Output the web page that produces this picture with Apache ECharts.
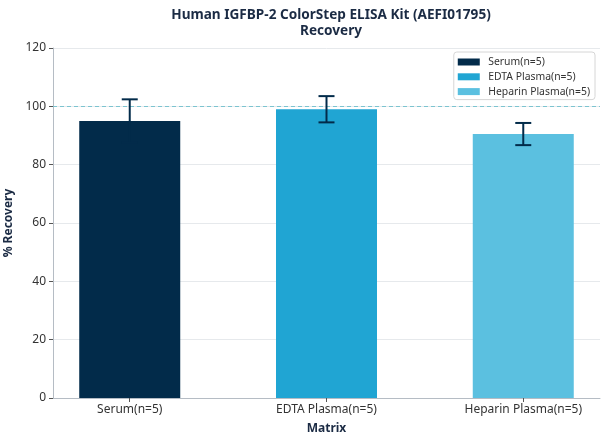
<!DOCTYPE html>
<html>
<head>
<meta charset="utf-8">
<script src="https://cdn.jsdelivr.net/npm/echarts@6/dist/echarts.min.js"></script>
<style>
  html, body { margin: 0; padding: 0; background: #fff; }
  #chart { width: 608px; height: 444px; }
</style>
</head>
<body>
<div id="chart"></div>
<script>
// data
const categories = ['Serum(n=5)', 'EDTA Plasma(n=5)', 'Heparin Plasma(n=5)'];
const recovery = [95, 99, 90.5];
const errors = [7.4, 4.5, 3.8];
const colors = ['#022b4a', '#20a5d3', '#5bc0e0'];
const yTicks = [0, 20, 40, 60, 80, 100, 120];

const chart = echarts.init(document.getElementById('chart'));

const barSeries = categories.map((name, i) => ({
  name: name,
  type: 'bar',
  barWidth: 101,
  barGap: '-100%',
  itemStyle: { color: colors[i] },
  data: [[i, recovery[i]]],
  z: 2
}));

// dashed reference line at 100 %
barSeries[0].markLine = {
  silent: true,
  symbol: 'none',
  label: { show: false },
  lineStyle: { color: '#7cc4d0', type: [4, 3], width: 1 },
  data: [{ yAxis: 100 }],
  z: 5
};

const errData = categories.map((c, i) => [i, recovery[i] - errors[i], recovery[i] + errors[i]]);

chart.setOption({
  animation: false,
  textStyle: { fontFamily: 'Noto Sans' },
  title: {
    text: 'Human IGFBP-2 ColorStep ELISA Kit (AEFI01795)\nRecovery',
    left: 326,
    top: 2,
    textAlign: 'center',
    textStyle: { fontSize: 13.6, fontWeight: 'bold', color: '#1b2b44', lineHeight: 16, fontFamily: 'Noto Sans' }
  },
  legend: {
    orient: 'vertical',
    right: 13,
    top: 52,
    data: categories,
    itemWidth: 22,
    itemHeight: 7,
    itemGap: 4.8,
    padding: [5, 5, 3, 4],
    borderColor: '#d6d6d6',
    borderWidth: 1,
    borderRadius: 3,
    icon: 'rect',
    textStyle: { fontSize: 10.4, color: '#333', fontFamily: 'Noto Sans', padding: [0, 0, 0, 3.5] }
  },
  grid: { left: 53, right: 8, top: 48, bottom: 46, outerBoundsMode: 'none' },
  xAxis: {
    type: 'value',
    min: -0.39,
    max: 2.39,
    name: 'Matrix',
    nameLocation: 'middle',
    nameGap: 25,
    nameTextStyle: { fontSize: 12, fontWeight: 'bold', color: '#1b2b44' },
    axisLine: { show: true, onZero: false, lineStyle: { color: '#b5bcc4' } },
    axisTick: { show: true, length: 4, customValues: [0, 1, 2], lineStyle: { color: '#555' } },
    axisLabel: {
      customValues: [0, 1, 2],
      formatter: v => categories[Math.round(v)],
      fontSize: 12,
      color: '#333',
      margin: 6
    },
    splitLine: { show: false }
  },
  yAxis: {
    type: 'value',
    min: 0,
    max: 120,
    interval: 20,
    name: '% Recovery',
    nameLocation: 'middle',
    nameGap: 28,
    nameTextStyle: { fontSize: 12, fontWeight: 'bold', color: '#1b2b44' },
    axisLine: { show: true, onZero: false, lineStyle: { color: '#b5bcc4' } },
    axisTick: { show: true, length: 4, lineStyle: { color: '#555' } },
    axisLabel: {
      fontSize: 12,
      color: '#333',
      margin: 7,
      formatter: v => (yTicks.indexOf(v) >= 0 ? String(v) : '')
    },
    splitLine: { show: true, lineStyle: { color: '#e6e9ec' } }
  },
  series: barSeries.concat([{
    type: 'custom',
    name: 'error',
    z: 10,
    silent: true,
    data: errData,
    renderItem: function (params, api) {
      const x = api.value(0);
      const lo = api.coord([x, api.value(1)]);
      const hi = api.coord([x, api.value(2)]);
      const half = 8;
      const style = { stroke: '#022b4a', lineWidth: 2 };
      return {
        type: 'group',
        children: [
          { type: 'line', shape: { x1: hi[0], y1: hi[1], x2: lo[0], y2: lo[1] }, style: style },
          { type: 'line', shape: { x1: hi[0] - half, y1: hi[1], x2: hi[0] + half, y2: hi[1] }, style: style },
          { type: 'line', shape: { x1: lo[0] - half, y1: lo[1], x2: lo[0] + half, y2: lo[1] }, style: style }
        ]
      };
    }
  }])
});
</script>
</body>
</html>
